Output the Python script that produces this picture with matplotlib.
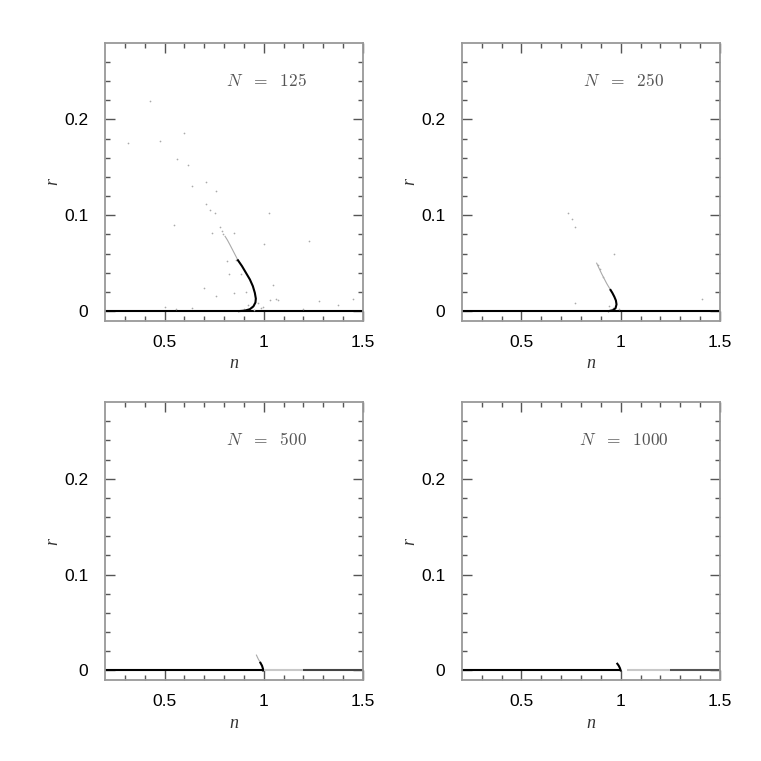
import matplotlib
matplotlib.use('Agg')
import matplotlib.pyplot as plt
from matplotlib.ticker import FixedLocator

plt.rcParams['mathtext.fontset'] = 'cm'

# particle counts per panel
N_values = [125, 250, 500, 1000]

# dense branch of each panel (n, r)
curve_n = {
    125: [0.875, 0.905, 0.930, 0.948, 0.958, 0.960, 0.955, 0.945, 0.930, 0.910, 0.890, 0.870],
    250: [0.940, 0.962, 0.974, 0.979, 0.976, 0.968, 0.958, 0.949],
    500: [0.996, 0.996, 0.991, 0.983],
    1000: [1.000, 0.996, 0.990, 0.983],
}
curve_r = {
    125: [0.000, 0.0005, 0.002, 0.005, 0.009, 0.013, 0.019, 0.026, 0.033, 0.040, 0.047, 0.053],
    250: [0.000, 0.001, 0.003, 0.007, 0.011, 0.015, 0.019, 0.022],
    500: [0.000, 0.0017, 0.005, 0.008],
    1000: [0.000, 0.0025, 0.005, 0.007],
}

# faint upper continuation of the branch
faint_n = {
    125: [0.870, 0.850, 0.830, 0.817, 0.805],
    250: [0.949, 0.929, 0.904, 0.879],
    500: [0.983, 0.972, 0.963],
    1000: [],
}
faint_r = {
    125: [0.053, 0.061, 0.069, 0.074, 0.078],
    250: [0.022, 0.029, 0.039, 0.050],
    500: [0.008, 0.012, 0.016],
    1000: [],
}

# scattered single points
dots_n = {
    125: [0.318, 0.428, 0.475, 0.600, 0.563, 0.619, 0.636, 0.707, 0.757, 0.707, 0.728, 0.753,
          0.546, 0.791, 1.027, 1.002, 1.230, 0.698, 0.757, 0.850, 1.032, 1.060, 1.450, 1.374,
          0.500, 0.740, 0.850, 0.859, 0.817, 0.825, 0.884, 0.909, 0.994, 1.044, 1.070, 1.280,
          1.200, 0.920, 0.940, 0.970, 0.985, 0.900, 0.950, 0.795, 0.780, 0.640, 0.560],
    250: [0.736, 0.756, 0.769, 0.966, 0.769, 0.940, 1.408, 0.885, 0.895, 0.910, 0.960, 0.990],
    500: [],
    1000: [],
}
dots_r = {
    125: [0.175, 0.219, 0.177, 0.186, 0.159, 0.152, 0.131, 0.135, 0.125, 0.112, 0.105, 0.102,
          0.090, 0.084, 0.102, 0.0705, 0.073, 0.0236, 0.016, 0.019, 0.012, 0.013, 0.013, 0.0066,
          0.004, 0.081, 0.081, 0.053, 0.052, 0.039, 0.0385, 0.020, 0.0045, 0.027, 0.0115, 0.011,
          0.002, 0.006, 0.004, 0.008, 0.003, 0.002, 0.001, 0.080, 0.088, 0.003, 0.002],
    250: [0.102, 0.0965, 0.088, 0.060, 0.0087, 0.005, 0.013, 0.048, 0.044, 0.036, 0.003, 0.002],
    500: [],
    1000: [],
}

# r = 0 line, break points in n
base_n = {
    125: [0.2, 1.5],
    250: [0.2, 1.5],
    500: [0.2, 1.0, 1.2, 1.5],
    1000: [0.2, 1.0, 1.03, 1.25, 1.5],
}
base_shade = {
    125: ['black'],
    250: ['black'],
    500: ['black', '#c8c8c8', '#444444'],
    1000: ['black', 'white', '#c8c8c8', '#555555'],
}

x_major = [0.5, 1.0, 1.5]
x_major_labels = ['0.5', '1', '1.5']
y_major = [0.0, 0.1, 0.2]
y_major_labels = ['0', '0.1', '0.2']
x_minor = [0.3, 0.4, 0.6, 0.7, 0.8, 0.9, 1.1, 1.2, 1.3, 1.4]
y_minor = [0.02, 0.04, 0.06, 0.08, 0.12, 0.14, 0.16, 0.18, 0.22, 0.24, 0.26]

fig = plt.figure(figsize=(7.61, 7.61), dpi=100)
boxes = [
    [0.138, 0.5786, 0.339, 0.3653],
    [0.607, 0.5786, 0.339, 0.3653],
    [0.138, 0.1064, 0.339, 0.3653],
    [0.607, 0.1064, 0.339, 0.3653],
]

for box, N in zip(boxes, N_values):
    ax = fig.add_axes(box)
    bn = base_n[N]
    for i, c in enumerate(base_shade[N]):
        ax.plot([bn[i], bn[i + 1]], [0, 0], color=c, lw=1.5, solid_capstyle='butt', zorder=2)
    if faint_n[N]:
        ax.plot(faint_n[N], faint_r[N], color='#aaaaaa', lw=0.8, zorder=3)
    ax.plot(curve_n[N], curve_r[N], color='black', lw=1.5, zorder=4)
    if dots_n[N]:
        ax.scatter(dots_n[N], dots_r[N], s=1.5, color='#aaaaaa', linewidths=0, zorder=3)

    ax.set_xlim(0.2, 1.5)
    ax.set_ylim(-0.01, 0.28)
    ax.xaxis.set_major_locator(FixedLocator(x_major))
    ax.xaxis.set_minor_locator(FixedLocator(x_minor))
    ax.yaxis.set_major_locator(FixedLocator(y_major))
    ax.yaxis.set_minor_locator(FixedLocator(y_minor))
    ax.set_xticklabels(x_major_labels)
    ax.set_yticklabels(y_major_labels)
    ax.tick_params(which='both', direction='in', top=True, right=True, color='#555555',
                   labelsize=12.5, width=1.0)
    ax.tick_params(axis='y', pad=12)
    ax.tick_params(axis='x', pad=10)
    ax.tick_params(which='major', length=7)
    ax.tick_params(which='minor', length=3.6)
    for lab in ax.get_xticklabels() + ax.get_yticklabels():
        lab.set_family('Liberation Sans')
    for sp in ax.spines.values():
        sp.set_color('#999999')
        sp.set_linewidth(1.3)

    ax.set_xlabel('n', fontfamily='Liberation Serif', style='italic', fontsize=13, color='#333333')
    ax.set_ylabel('r', fontfamily='Liberation Serif', style='italic', fontsize=13, color='#333333')
    ax.xaxis.set_label_coords(0.5, -0.125)
    ax.yaxis.set_label_coords(-0.17, 0.5)

    ax.text(0.627, 0.862, r'$N\ \ =\ \ %d$' % N, transform=ax.transAxes, ha='center', va='center',
            color='#555555', fontsize=12.5)

fig.savefig('out.png', dpi=100)
